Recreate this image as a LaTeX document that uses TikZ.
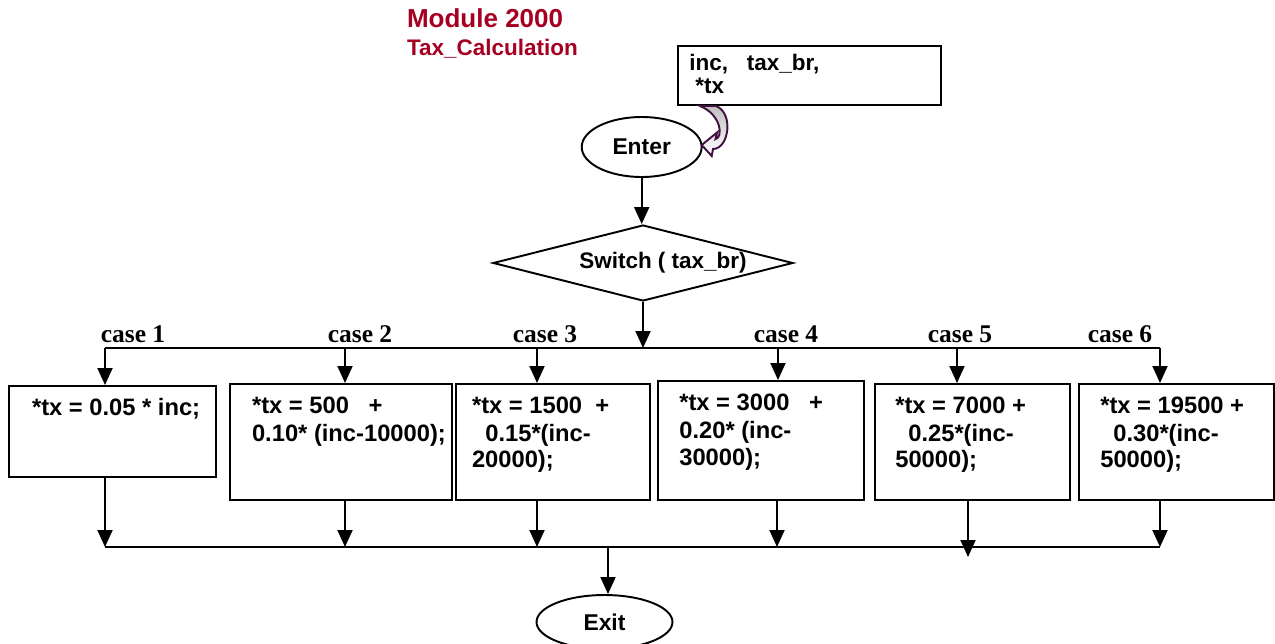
\documentclass[tikz,border=0pt]{standalone}
\usepackage{fontspec}
\setmainfont{Liberation Sans}
\newfontfamily\caseserif{Liberation Serif}
\usetikzlibrary{arrows.meta,shapes.geometric}

\definecolor{modred}{RGB}{165,0,33}
\definecolor{looppurple}{RGB}{64,16,64}

\tikzset{
  flow/.style={line width=1.1pt},
  arr/.style={flow, -{Triangle[length=0.34cm,width=0.3cm]}},
  casebox/.style={draw, flow, rectangle, anchor=north west, inner sep=0pt},
  boxtext/.style={anchor=west, inner sep=0pt, text height=9.7pt, text depth=0pt,
    font=\fontsize{13.5}{16}\selectfont\bfseries},
  caselabel/.style={inner sep=0pt, font=\caseserif\fontsize{14.5}{17}\selectfont\bfseries},
  oval/.style={draw, flow, ellipse, inner sep=0pt, font=\fontsize{13}{15}\selectfont\bfseries},
}

\begin{document}
\begin{tikzpicture}[x=0.02cm, y=-0.02cm]
  \useasboundingbox (0,0) rectangle (1275,643);

  % title
  \node[anchor=west, inner sep=0pt, text=modred, font=\fontsize{14.8}{17}\selectfont\bfseries] (modname) at (406.7,18) {Module 2000};
  \node[anchor=west, inner sep=0pt, text=modred, font=\fontsize{12.8}{15}\selectfont\bfseries] (modtitle) at (406.7,49) {Tax\_Calculation};

  % parameters and entry
  \node[casebox, minimum width=5.26cm, minimum height=1.18cm] (params) at (676.7,45) {};
  \node[boxtext, font=\fontsize{12.8}{15}\selectfont\bfseries] (parone) at (689,61.7) {inc,\ \ \ tax\_br,};
  \node[boxtext, font=\fontsize{12.8}{15}\selectfont\bfseries] (partwo) at (695,85) {*tx};
  \node[oval, minimum width=2.4cm, minimum height=1.2cm] (enter) at (641.7,147) {Enter};
  \shade[draw=looppurple, line width=1.1pt, top color=gray!50, bottom color=white]
    (700,106) -- (716,106) .. controls (734,113) and (729,149) .. (713,149)
    -- (711.7,156) -- (701.7,145) -- (717,132.5) -- (715.5,139)
    .. controls (723,138) and (722,115) .. (700,106) -- cycle;

  % switch
  \node[draw, flow, diamond, inner sep=0pt, minimum width=6cm, minimum height=1.52cm] (switch) at (643,263) {};
  \node[inner sep=0pt, font=\fontsize{12.8}{15}\selectfont\bfseries] (switchtext) at (663,263) {Switch ( tax\_br)};
  \draw[arr] (enter.south) -- (enter.south |- switch.north);

  % distribution line
  \coordinate (top1) at (105,348);
  \coordinate (top2) at (345,348);
  \coordinate (top3) at (537,348);
  \coordinate (top4) at (778,348);
  \coordinate (top5) at (957,348);
  \coordinate (top6) at (1160,348);
  \draw[flow] (top1) -- (top6);
  \draw[arr] (switch.south) -- (switch.south |- top1);

  \node[caselabel] (case1) at (133,334) {case 1};
  \node[caselabel] (case2) at (360,334) {case 2};
  \node[caselabel] (case3) at (545,334) {case 3};
  \node[caselabel] (case4) at (786,334) {case 4};
  \node[caselabel] (case5) at (960,334) {case 5};
  \node[caselabel] (case6) at (1120,334) {case 6};

  % case boxes
  \node[casebox, minimum width=4.13cm, minimum height=1.82cm] (box1) at (8.3,385) {};
  \node[casebox, minimum width=4.44cm, minimum height=2.32cm] (box2) at (229,383) {};
  \node[casebox, minimum width=3.88cm, minimum height=2.32cm] (box3) at (455,383) {};
  \node[casebox, minimum width=4.12cm, minimum height=2.38cm] (box4) at (657,380) {};
  \node[casebox, minimum width=3.90cm, minimum height=2.32cm] (box5) at (874,383) {};
  \node[casebox, minimum width=3.90cm, minimum height=2.32cm] (box6) at (1078,383) {};

  \node[boxtext] (taxa) at (31.7,406.7) {*tx = 0.05 * inc;};
  \node[boxtext] (taxb) at (251.7,405) {*tx = 500\ \ \ +};
  \node[boxtext] (taxbb) at (251.7,433) {0.10* (inc-10000);};
  \node[boxtext] (taxc) at (471.7,405) {*tx = 1500\ \ +};
  \node[boxtext] (taxcc) at (485,433) {0.15*(inc-};
  \node[boxtext] (taxccc) at (471.7,459) {20000);};
  \node[boxtext] (taxd) at (679,401.7) {*tx = 3000\ \ \ +};
  \node[boxtext] (taxdd) at (679,430) {0.20* (inc-};
  \node[boxtext] (taxddd) at (679,457) {30000);};
  \node[boxtext] (taxe) at (895,405) {*tx = 7000 +};
  \node[boxtext] (taxee) at (908,433) {0.25*(inc-};
  \node[boxtext] (taxeee) at (895,459) {50000);};
  \node[boxtext] (taxf) at (1100,405) {*tx = 19500 +};
  \node[boxtext] (taxff) at (1113,433) {0.30*(inc-};
  \node[boxtext] (taxfff) at (1100,459) {50000);};

  \draw[arr] (top1) -- (top1 |- box1.north);
  \draw[arr] (top2) -- (top2 |- box2.north);
  \draw[arr] (top3) -- (top3 |- box3.north);
  \draw[arr] (top4) -- (top4 |- box4.north);
  \draw[arr] (top5) -- (top5 |- box5.north);
  \draw[arr] (top6) -- (top6 |- box6.north);

  % collecting line
  \coordinate (bot1) at (105,547);
  \coordinate (bot2) at (345,547);
  \coordinate (bot3) at (537,547);
  \coordinate (bot4) at (777,547);
  \coordinate (bot5) at (968,557);
  \coordinate (bot6) at (1160,547);
  \coordinate (join) at (608,547);
  \draw[flow] (bot1) -- (bot6);
  \draw[arr] (box1.south -| bot1) -- (bot1);
  \draw[arr] (box2.south -| bot2) -- (bot2);
  \draw[arr] (box3.south -| bot3) -- (bot3);
  \draw[arr] (box4.south -| bot4) -- (bot4);
  \draw[arr] (box5.south -| bot5) -- (bot5);
  \draw[arr] (box6.south -| bot6) -- (bot6);

  % exit
  \node[oval, minimum width=2.72cm, minimum height=1.08cm] (exit) at (604.5,622) {Exit};
  \draw[arr] (join) -- (join |- exit.north);
\end{tikzpicture}
\end{document}
